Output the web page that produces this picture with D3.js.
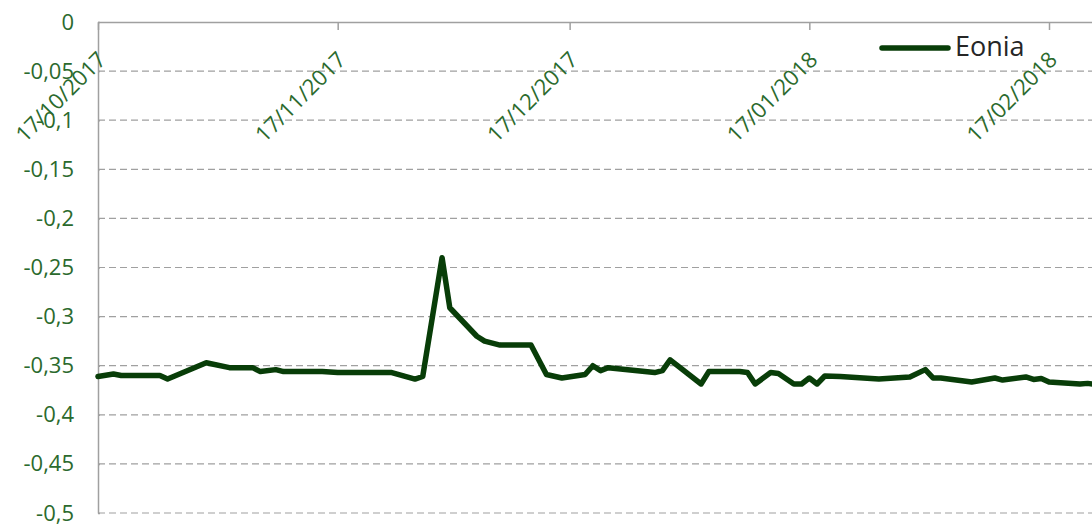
<!DOCTYPE html>
<html>

<head>
    <meta charset="utf-8">
    <style>
        body {
            margin: 0;
            background: #fff;
            font-family: 'Open Sans', sans-serif;
        }

        svg {
            display: block;
        }

        .grid line {
            stroke: #a0a0a0;
            stroke-width: 1.2;
            stroke-dasharray: 7 4;
        }

        .axis .domain,
        .axis .tick line {
            stroke: #a0a0a0;
            stroke-width: 1.5;
        }

        .axis .tick text {
            font-size: 22px;
            fill: #2b6a2d;
            font-family: 'Open Sans', sans-serif;
        }
    </style>
</head>

<body>
    <svg width="1092" height="529"></svg>

    <script src="https://d3js.org/d3.v7.min.js"></script>
    <script>
        // Eonia fixings
        const dates = [
            "2017-10-17", "2017-10-19", "2017-10-20", "2017-10-25", "2017-10-26",
            "2017-10-31", "2017-11-03", "2017-11-06", "2017-11-07", "2017-11-09",
            "2017-11-10", "2017-11-15", "2017-11-17", "2017-11-24", "2017-11-27",
            "2017-11-28", "2017-11-30T12:00", "2017-12-01T12:00", "2017-12-05", "2017-12-06",
            "2017-12-08", "2017-12-12", "2017-12-14", "2017-12-16", "2017-12-19",
            "2017-12-20", "2017-12-21", "2017-12-22", "2017-12-28", "2017-12-29",
            "2017-12-30", "2018-01-03", "2018-01-04", "2018-01-08", "2018-01-09",
            "2018-01-10", "2018-01-12", "2018-01-13", "2018-01-15", "2018-01-16",
            "2018-01-17", "2018-01-18", "2018-01-19", "2018-01-21", "2018-01-26",
            "2018-01-30", "2018-02-01", "2018-02-02", "2018-02-03", "2018-02-07",
            "2018-02-10", "2018-02-11", "2018-02-14", "2018-02-15", "2018-02-16",
            "2018-02-17", "2018-02-21", "2018-02-22", "2018-02-23"
        ];
        const eonia = [
            -0.361, -0.3585, -0.360, -0.360, -0.3636,
            -0.347, -0.352, -0.352, -0.356, -0.354,
            -0.356, -0.356, -0.357, -0.357, -0.3636,
            -0.361, -0.240, -0.291, -0.320, -0.325,
            -0.329, -0.329, -0.359, -0.3625, -0.359,
            -0.350, -0.355, -0.352, -0.357, -0.355,
            -0.344, -0.3686, -0.356, -0.356, -0.357,
            -0.3686, -0.357, -0.358, -0.3686, -0.3686,
            -0.3625, -0.3686, -0.3605, -0.361, -0.3636,
            -0.3615, -0.354, -0.3625, -0.3625, -0.3666,
            -0.3625, -0.3646, -0.3615, -0.364, -0.363,
            -0.3666, -0.3686, -0.368, -0.369
        ];

        const xTicks = ["2017-10-17", "2017-11-17", "2017-12-17", "2018-01-17", "2018-02-17"];
        const yTicks = [0, -0.05, -0.1, -0.15, -0.2, -0.25, -0.3, -0.35, -0.4, -0.45, -0.5];
        const yTickLabels = ["0", "-0,05", "-0,1", "-0,15", "-0,2", "-0,25", "-0,3", "-0,35", "-0,4", "-0,45", "-0,5"];
        const seriesName = "Eonia";

        const parse = function (s) {
            return s.length > 10 ? d3.timeParse("%Y-%m-%dT%H:%M")(s) : d3.timeParse("%Y-%m-%d")(s);
        };
        const data = dates.map(function (d, i) {
            return { date: parse(d), value: eonia[i] };
        });

        let width = 1092;
        let height = 529;
        let margin = { top: 22, right: 0, bottom: 16, left: 98 };

        let svg = d3.select("svg");

        // first and last labelled ticks sit at the axis start and near the right edge
        let x = d3.scaleTime()
            .domain([parse(xTicks[0]), parse(xTicks[4])])
            .range([margin.left, 1049]);

        let y = d3.scaleLinear()
            .domain([0, -0.5])
            .range([margin.top, height - margin.bottom]);

        // dashed horizontal gridlines
        svg.append("g")
            .attr("class", "grid")
            .selectAll("line")
            .data(yTicks.filter(function (d) { return d !== 0 }))
            .join("line")
            .attr("x1", margin.left)
            .attr("x2", width)
            .attr("y1", function (d) { return y(d) })
            .attr("y2", function (d) { return y(d) });

        // y axis on the left
        let yAxis = svg.append("g")
            .attr("class", "y axis")
            .attr("transform", `translate(${margin.left},0)`)
            .call(d3.axisLeft(y)
                .tickValues(yTicks)
                .tickSize(8)
                .tickPadding(16)
                .tickSizeOuter(0)
                .tickFormat(function (d, i) { return yTickLabels[i] }));
        yAxis.selectAll(".tick line").attr("x2", 2);

        // x axis along the top (value 0), ticks pointing down
        let xAxis = svg.append("g")
            .attr("class", "x axis")
            .attr("transform", `translate(0,${margin.top})`)
            .call(d3.axisBottom(x)
                .tickValues(xTicks.map(parse))
                .tickSize(8)
                .tickSizeOuter(0)
                .tickFormat(d3.timeFormat("%d/%m/%Y")));
        xAxis.select(".domain").attr("d", `M${margin.left},0.5H${width}`);
        xAxis.selectAll(".tick text")
            .attr("x", 0)
            .attr("y", 0)
            .attr("dy", 0)
            .attr("text-anchor", "end")
            .attr("transform", "translate(9,39) rotate(-45)");

        // the series
        let line = d3.line()
            .x(function (d) { return x(d.date) })
            .y(function (d) { return y(d.value) });

        svg.append("path")
            .datum(data)
            .attr("d", line)
            .style("fill", "none")
            .style("stroke", "#083d08")
            .style("stroke-width", 5.5)
            .style("stroke-linejoin", "round")
            .style("stroke-linecap", "round");

        // legend
        let legend = svg.append("g").attr("class", "legend");
        legend.append("line")
            .attr("x1", 882)
            .attr("x2", 948)
            .attr("y1", 48)
            .attr("y2", 48)
            .style("stroke", "#083d08")
            .style("stroke-width", 5.5)
            .style("stroke-linecap", "round");
        legend.append("text")
            .attr("x", 955)
            .attr("y", 56)
            .style("font-size", "27px")
            .style("fill", "#262626")
            .text(seriesName);
    </script>
</body>

</html>
